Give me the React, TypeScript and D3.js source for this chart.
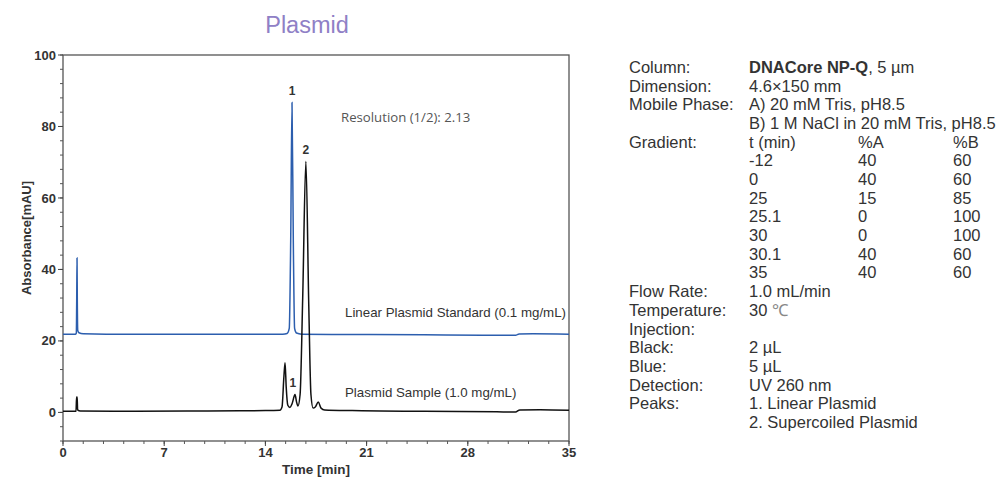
import React from 'react';
import * as d3 from 'd3';

// chromatogram traces, [time (min), absorbance (mAU)]
const blueTrace: [number, number][] = [
  [0, 21.9], [0.85, 21.9], [0.92, 22.2], [0.95, 32], [0.97, 43.2], [0.99, 31],
  [1.02, 22.9], [1.1, 22.3], [1.4, 22.0], [3, 21.9], [8, 21.9], [12, 21.9],
  [15.2, 21.9], [15.5, 22.1], [15.65, 23.5], [15.75, 48], [15.84, 86.7],
  [15.93, 48], [16.02, 23.5], [16.15, 22.2], [16.5, 21.9], [20, 21.8],
  [25, 21.7], [29, 21.6], [31.3, 21.6], [31.55, 21.95], [32.5, 22.0], [35, 21.9],
];

const blackTrace: [number, number][] = [
  [0, 0.3], [0.9, 0.3], [0.94, 4.3], [0.98, 4.3], [1.01, 0.7], [1.2, 0.4],
  [5, 0.3], [10, 0.4], [14, 0.5], [15.0, 0.6], [15.15, 1.5], [15.28, 10],
  [15.36, 13.9], [15.44, 7], [15.55, 2], [15.7, 1.4], [15.85, 2.5], [16.05, 5.0],
  [16.15, 3], [16.25, 1.8], [16.4, 5], [16.58, 32], [16.8, 70.2], [17.0, 30],
  [17.15, 5], [17.3, 1.2], [17.45, 1.5], [17.66, 2.9], [17.85, 1.2], [18.1, 0.7],
  [20, 0.5], [25, 0.3], [30, 0.15], [31.3, 0.1], [31.6, 0.7], [33, 0.75], [35, 0.6],
];

const xTicks = [0, 7, 14, 21, 28, 35];
const yTicks = [0, 20, 40, 60, 80, 100];

// peak labels: [time, value, text]
const peakLabels: [number, number, string][] = [
  [15.84, 86.7, '1'],
  [16.8, 70.2, '2'],
  [15.9, 5.0, '1'],
];

const infoLabels = [
  'Column:', 'Dimension:', 'Mobile Phase:', '', 'Gradient:', '', '', '', '', '', '', '',
  'Flow Rate:', 'Temperature:', 'Injection:', 'Black:', 'Blue:', 'Detection:', 'Peaks:', '',
];
const infoValues = [
  '', '4.6\u00d7150 mm', 'A) 20 mM Tris, pH8.5', 'B) 1 M NaCl in 20 mM Tris, pH8.5',
  '', '', '', '', '', '', '', '',
  '1.0 mL/min', '', '', '2 \u00b5L', '5 \u00b5L', 'UV 260 nm',
  '1. Linear Plasmid', '2. Supercoiled Plasmid',
];
const gradTime = ['t (min)', '-12', '0', '25', '25.1', '30', '30.1', '35'];
const gradA = ['%A', '40', '40', '15', '0', '0', '40', '40'];
const gradB = ['%B', '60', '60', '85', '100', '100', '60', '60'];

const W = 1007;
const H = 479;
const plot = { left: 63, right: 569, top: 55, bottom: 441 };

export default function App() {
  const x = d3.scaleLinear().domain([0, 35]).range([plot.left, plot.right]);
  const y = d3.scaleLinear().domain([-8, 100]).range([plot.bottom, plot.top]);

  const line = d3.line<[number, number]>()
    .x(d => x(d[0]))
    .y(d => y(d[1]))
    .curve(d3.curveMonotoneX);

  const xMinor = d3.range(0, 35.001, 1.4);
  const yMinor = d3.range(-8, 100.001, 4);

  const font = 'Liberation Sans, Arial, Helvetica, sans-serif';
  const rowY = (i: number) => 73 + i * 18.68;

  return (
    <svg width={W} height={H} style={{ position: 'absolute', left: 0, top: 0, background: '#fff' }}
      fontFamily={font}>
      <text x={307} y={33} textAnchor="middle" fontSize={23.5} fill="#8f80c6">Plasmid</text>

      {/* frame */}
      <rect x={plot.left} y={plot.top} width={plot.right - plot.left} height={plot.bottom - plot.top}
        fill="none" stroke="#555" strokeWidth={1.3} />

      {/* y axis ticks */}
      {yMinor.map(v => (
        <line key={'ym' + v} x1={plot.left - 3} x2={plot.left} y1={y(v)} y2={y(v)} stroke="#555" />
      ))}
      {yTicks.map(v => (
        <g key={'y' + v}>
          <line x1={plot.left - 5} x2={plot.left} y1={y(v)} y2={y(v)} stroke="#444" />
          <text x={plot.left - 7} y={y(v)} dy="0.35em" textAnchor="end" fontSize={13}
            fontWeight="bold" fill="#333">{v}</text>
        </g>
      ))}

      {/* x axis ticks */}
      {xMinor.map(v => (
        <line key={'xm' + v} x1={x(v)} x2={x(v)} y1={plot.bottom} y2={plot.bottom + 3} stroke="#555" />
      ))}
      {xTicks.map(v => (
        <g key={'x' + v}>
          <line x1={x(v)} x2={x(v)} y1={plot.bottom} y2={plot.bottom + 5} stroke="#444" />
          <text x={x(v)} y={457} textAnchor="middle" fontSize={13} fontWeight="bold" fill="#333">{v}</text>
        </g>
      ))}

      <text x={316} y={474} textAnchor="middle" fontSize={13.5} fontWeight="bold" fill="#333">Time [min]</text>
      <text transform={`translate(31,${238}) rotate(-90)`} textAnchor="middle" fontSize={13}
        fontWeight="bold" fill="#333">Absorbance[mAU]</text>

      {/* traces */}
      <path d={line(blueTrace) ?? ''} fill="none" stroke="#2c5eae" strokeWidth={1.5} />
      <path d={line(blackTrace) ?? ''} fill="none" stroke="#111" strokeWidth={1.5} />

      {peakLabels.map(([t, v, s], i) => (
        <text key={'pk' + i} x={x(t)} y={y(v) - 8} textAnchor="middle"
          fontSize={12} fontWeight="bold" fill="#333">{s}</text>
      ))}

      <text x={341} y={122} fontSize={13.2} fill="#555"
        fontFamily="Open Sans, Noto Sans, sans-serif">Resolution (1/2): 2.13</text>
      <text x={345} y={317} fontSize={13.3} fill="#333">Linear Plasmid Standard (0.1 mg/mL)</text>
      <text x={345} y={397} fontSize={13.3} fill="#333">Plasmid Sample (1.0 mg/mL)</text>

      {/* method panel */}
      <g fontSize={16.5} fill="#333">
        {infoLabels.map((s, i) => s && (
          <text key={'il' + i} x={629} y={rowY(i)}>{s}</text>
        ))}
        <text x={749} y={rowY(0)}><tspan fontWeight="bold">DNACore NP-Q</tspan>, 5 µm</text>
        <text x={749} y={rowY(13)}>30 <tspan fill="#888">℃</tspan></text>
        {infoValues.map((s, i) => s && (
          <text key={'iv' + i} x={749} y={rowY(i)}>{s}</text>
        ))}
        {gradTime.map((s, i) => (
          <g key={'g' + i}>
            <text x={749} y={rowY(4 + i)}>{s}</text>
            <text x={858} y={rowY(4 + i)}>{gradA[i]}</text>
            <text x={953} y={rowY(4 + i)}>{gradB[i]}</text>
          </g>
        ))}
      </g>
    </svg>
  );
}
